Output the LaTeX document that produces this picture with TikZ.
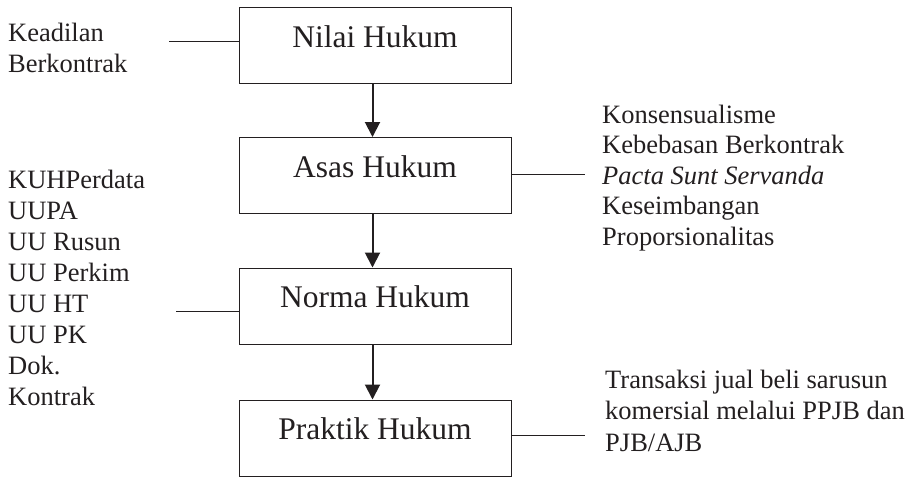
\documentclass[tikz,border=0pt]{standalone}
\usepackage{fontspec}
\setmainfont{Liberation Serif}
\usetikzlibrary{arrows.meta}
\definecolor{ink}{RGB}{35,31,32}
\tikzset{
  hbox/.style={draw=ink, line width=0.9pt, minimum width=272pt, inner sep=0pt,
    text height=40pt, text depth=36pt, text=ink, font=\fontsize{31.5}{36}\selectfont},
  lbl/.style={anchor=base west, inner sep=0pt, text=ink},
  flow/.style={draw=ink, line width=2pt, -{Triangle[length=15pt,width=15pt]}},
  tie/.style={draw=ink, line width=0.9pt}
}
\newcommand{\lst}[2]{\fontsize{26.5}{#1}\selectfont\begin{tabular}[t]{@{}l@{}}#2\end{tabular}}
\begin{document}
\begin{tikzpicture}[x=1pt,y=-1pt]
\useasboundingbox (0,0) rectangle (918,477);
\node[hbox, anchor=north] (nilai) at (375,7) {Nilai Hukum};
\node[hbox, anchor=north] (asas) at (375,137) {Asas Hukum};
\node[hbox, anchor=north] (norma) at (375,267.5) {Norma Hukum};
\node[hbox, anchor=north] (praktik) at (375,399.5) {Praktik Hukum};

\node[lbl] (kead) at (8,41) {\lst{31}{Keadilan\\Berkontrak}};
\node[lbl] (asaslist) at (602,123) {\lst{30.5}{Konsensualisme\\Kebebasan Berkontrak\\\textit{Pacta Sunt Servanda}\\Keseimbangan\\Proporsionalitas}};
\node[lbl] (normalist) at (8,188) {\lst{31}{KUHPerdata\\UUPA\\UU Rusun\\UU Perkim\\UU HT\\UU PK\\Dok.\\Kontrak}};
\node[lbl] (praklist) at (605,388) {\lst{31.5}{Transaksi jual beli sarusun\\komersial melalui PPJB dan\\PJB/AJB}};

\coordinate (k1) at (169,41);
\coordinate (a1) at (585,174);
\coordinate (n1) at (176,311);
\coordinate (p1) at (585,435);

\draw[tie] (k1) -- (nilai.west |- k1);
\draw[tie] (asas.east |- a1) -- (a1);
\draw[tie] (n1) -- (norma.west |- n1);
\draw[tie] (praktik.east |- p1) -- (p1);

\draw[flow] ([xshift=-2.5pt]nilai.south) -- ([xshift=-2.5pt]asas.north);
\draw[flow] ([xshift=-2.5pt]asas.south) -- ([xshift=-2.5pt]norma.north);
\draw[flow] ([xshift=-2.5pt]norma.south) -- ([xshift=-2.5pt]praktik.north);
\end{tikzpicture}
\end{document}
